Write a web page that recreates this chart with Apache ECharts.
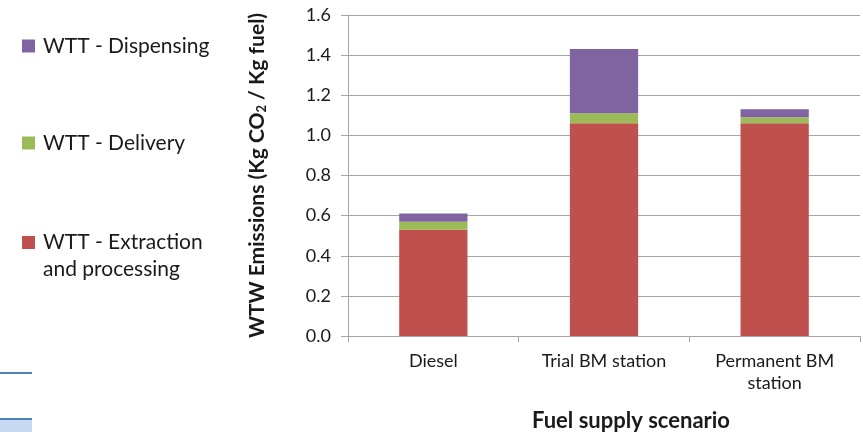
<!DOCTYPE html>
<html>
<head>
<meta charset="utf-8">
<script src="https://cdn.jsdelivr.net/npm/echarts@6/dist/echarts.min.js"></script>
<style>html,body{margin:0;padding:0;background:#fff;}#c{width:863px;height:432px;}</style>
</head>
<body>
<div id="c"></div>
<script>
const categories = ['Diesel', 'Trial BM station', 'Permanent BM\nstation'];
const extraction = [0.53, 1.06, 1.06];
const delivery = [0.04, 0.05, 0.03];
const dispensing = [0.04, 0.32, 0.04];
const yTicks = [0, 0.2, 0.4, 0.6, 0.8, 1.0, 1.2, 1.4, 1.6];
const seriesNames = ['WTT - Extraction and processing', 'WTT - Delivery', 'WTT - Dispensing'];

const FONT = 'Lato';
const chart = echarts.init(document.getElementById('c'), null, {renderer: 'canvas'});
const legendBase = {
  orient: 'vertical', left: 17, icon: 'rect', itemWidth: 13, itemHeight: 13,
  selectedMode: false,
  textStyle: {fontFamily: FONT, fontSize: 21, color: '#1a1a1a', lineHeight: 26, padding: [0, 0, 0, 3]}
};
chart.setOption({
  animation: false,
  grid: {left: 348, right: 3, top: 15, bottom: 96, outerBoundsMode: 'none', containLabel: false},
  legend: [
    Object.assign({}, legendBase, {top: 28, data: [seriesNames[2]]}),
    Object.assign({}, legendBase, {top: 125, data: [seriesNames[1]]}),
    Object.assign({}, legendBase, {top: 197, data: [seriesNames[0]],
      formatter: () => ' \nWTT - Extraction\nand processing',
      textStyle: {fontFamily: FONT, fontSize: 21, color: '#1a1a1a', lineHeight: 27, padding: [0, 0, 0, 3]}})
  ],
  xAxis: {
    type: 'category', data: categories,
    name: 'Fuel supply scenario', nameLocation: 'middle', nameGap: 74,
    nameTextStyle: {fontFamily: FONT, fontSize: 22, fontWeight: 'bold', color: '#1a1a1a', padding: [0, 0, 0, 54]},
    axisLine: {lineStyle: {color: '#a6a6a6', width: 1}},
    axisTick: {show: true, length: 6, lineStyle: {color: '#a6a6a6'}},
    axisLabel: {interval: 0, fontFamily: FONT, fontSize: 18, color: '#1a1a1a', margin: 14, lineHeight: 22}
  },
  yAxis: {
    type: 'value', min: 0, max: 1.6, interval: 0.2,
    name: '{a|WTW Emissions (Kg CO}{s|2}{a| / Kg fuel)}',
    nameLocation: 'middle', nameGap: 78, nameRotate: 90,
    nameTextStyle: {
      rich: {
        a: {fontFamily: FONT, fontSize: 21, fontWeight: 'bold', color: '#1a1a1a', lineHeight: 26},
        s: {fontFamily: FONT, fontSize: 13, fontWeight: 'bold', color: '#1a1a1a', lineHeight: 26, padding: [9, 0, 0, 0]}
      }
    },
    axisLine: {show: true, lineStyle: {color: '#a6a6a6'}},
    axisTick: {show: true, length: 7, lineStyle: {color: '#a6a6a6'}},
    splitLine: {lineStyle: {color: '#a6a6a6'}},
    axisLabel: {fontFamily: FONT, fontSize: 18, color: '#1a1a1a', margin: 17,
      formatter: v => v.toFixed(1)}
  },
  series: [
    {name: seriesNames[0], type: 'bar', stack: 'a', data: extraction, barWidth: '40%', itemStyle: {color: '#C0504D'}},
    {name: seriesNames[1], type: 'bar', stack: 'a', data: delivery, itemStyle: {color: '#9BBB59'}},
    {name: seriesNames[2], type: 'bar', stack: 'a', data: dispensing, itemStyle: {color: '#8064A2'}}
  ],
  graphic: [
    {type: 'line', shape: {x1: 0, y1: 373, x2: 32, y2: 373}, style: {stroke: '#4F81BD', lineWidth: 2}},
    {type: 'rect', shape: {x: 0, y: 420, width: 32, height: 12}, style: {fill: '#C6D9F1'}},
    {type: 'line', shape: {x1: 0, y1: 419, x2: 32, y2: 419}, style: {stroke: '#4F81BD', lineWidth: 2}}
  ]
});
</script>
</body>
</html>
